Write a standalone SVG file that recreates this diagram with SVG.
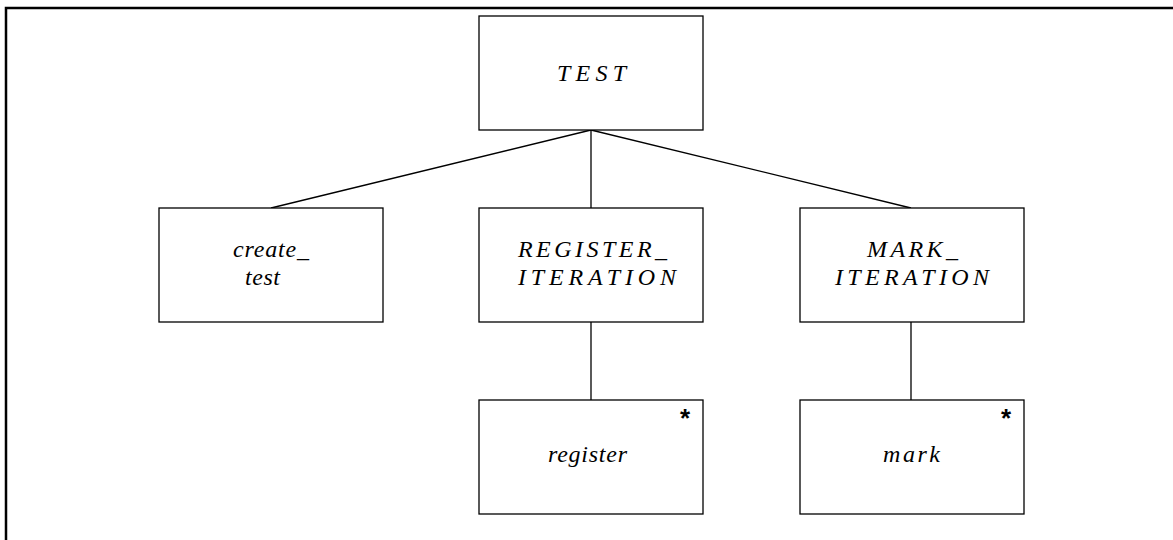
<svg xmlns="http://www.w3.org/2000/svg" width="1173" height="540" viewBox="0 0 1173 540">
<style>
.box{fill:#fff;stroke:#000;stroke-width:1.3}
.lbl{font-family:"Liberation Serif",serif;font-style:italic;font-size:24px;fill:#000}
.ast{font-family:"Liberation Sans",sans-serif;font-size:26px;font-weight:bold;fill:#000}
.con{stroke:#000;stroke-width:1.3;fill:none}
</style>
<rect width="1173" height="540" fill="#fff"/>
<path d="M6 540 V8 H1173" fill="none" stroke="#000" stroke-width="2.5"/>
<g id="connectors">
<line class="con" x1="591" y1="130" x2="271" y2="208"/>
<line class="con" x1="591" y1="130" x2="591" y2="208"/>
<line class="con" x1="591" y1="130" x2="911" y2="208"/>
<line class="con" x1="591" y1="322" x2="591" y2="400"/>
<line class="con" x1="911" y1="322" x2="911" y2="400"/>
</g>
<g id="test">
<rect class="box" x="479" y="16" width="224" height="114"/>
<text class="lbl" x="557" y="81" textLength="69" lengthAdjust="spacing">TEST</text>
</g>
<g id="create_test">
<rect class="box" x="159" y="208" width="224" height="114"/>
<text class="lbl" x="233" y="257" textLength="76" lengthAdjust="spacing">create_</text>
<text class="lbl" x="245" y="285" textLength="35" lengthAdjust="spacing">test</text>
</g>
<g id="register_iteration">
<rect class="box" x="479" y="208" width="224" height="114"/>
<text class="lbl" x="518" y="257" textLength="149" lengthAdjust="spacing">REGISTER_</text>
<text class="lbl" x="518" y="285" textLength="158" lengthAdjust="spacing">ITERATION</text>
</g>
<g id="mark_iteration">
<rect class="box" x="800" y="208" width="224" height="114"/>
<text class="lbl" x="867" y="257" textLength="91" lengthAdjust="spacing">MARK_</text>
<text class="lbl" x="835" y="285" textLength="154" lengthAdjust="spacing">ITERATION</text>
</g>
<g id="register">
<rect class="box" x="479" y="400" width="224" height="114"/>
<text class="lbl" x="548" y="462" textLength="79" lengthAdjust="spacing">register</text>
<text class="ast" x="685" y="427" text-anchor="middle">*</text>
</g>
<g id="mark">
<rect class="box" x="800" y="400" width="224" height="114"/>
<text class="lbl" x="883" y="462" textLength="57" lengthAdjust="spacing">mark</text>
<text class="ast" x="1006" y="427" text-anchor="middle">*</text>
</g>
</svg>
